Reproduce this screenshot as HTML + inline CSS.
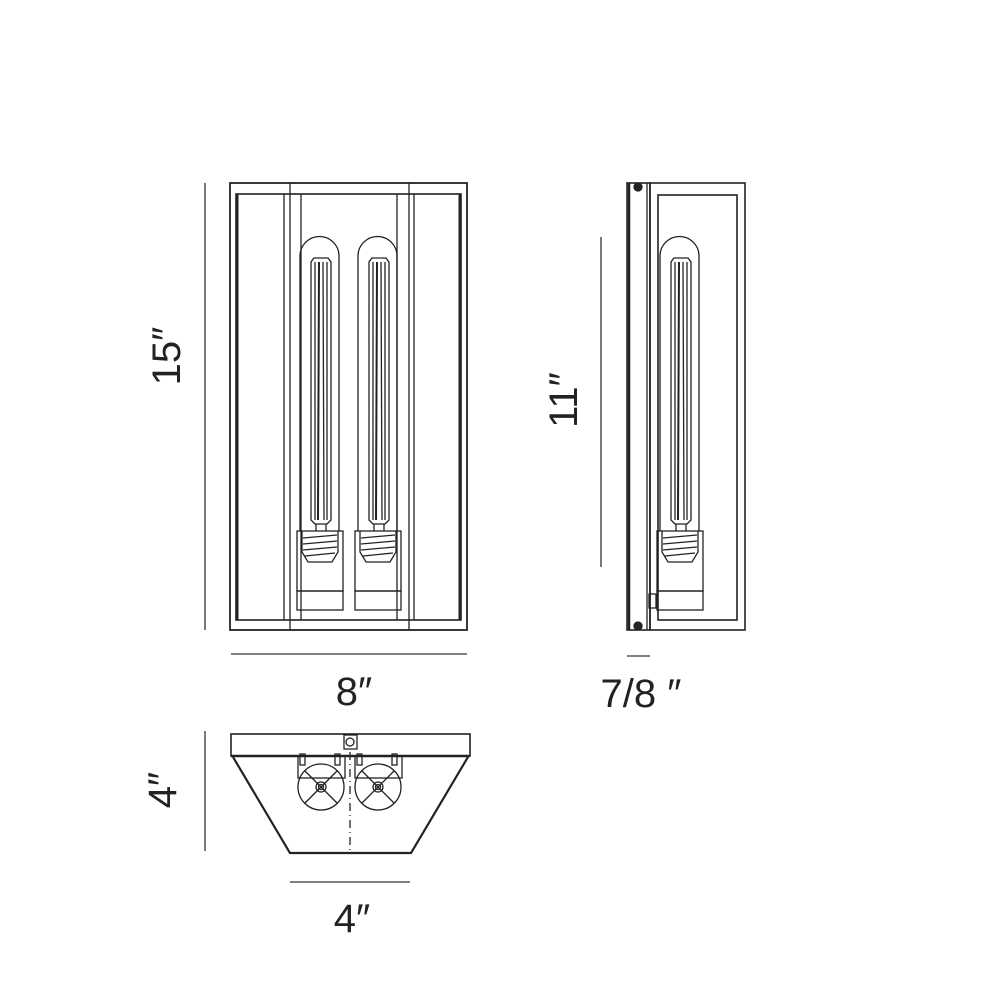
<!DOCTYPE html>
<html><head><style>body{margin:0;background:#fff}</style></head><body>
<svg width="1000" height="1000" viewBox="0 0 1000 1000" xmlns="http://www.w3.org/2000/svg">
<rect width="1000" height="1000" fill="#fff"/>
<g fill="none" stroke="#222" stroke-width="1.3">
<!-- front view -->
<rect x="230" y="183" width="237" height="447" stroke-width="1.8"/>
<rect x="236" y="194" width="225" height="426" stroke-width="1.6"/>
<line x1="237" y1="194" x2="237" y2="620" stroke-width="3"/>
<line x1="460" y1="194" x2="460" y2="620" stroke-width="3"/>
<line x1="290" y1="183" x2="290" y2="630"/>
<line x1="409" y1="183" x2="409" y2="630"/>
<line x1="284" y1="194" x2="284" y2="620"/>
<line x1="414" y1="194" x2="414" y2="620"/>
<line x1="301" y1="194" x2="301" y2="620"/>
<line x1="397" y1="194" x2="397" y2="620"/>
<g id="bulb">
<path d="M300,531 V256 A19,19 0 0 1 339,256 V531"/>
<path d="M311,520 V262 l3,-4 h14 l3,4 V520 l-4,4 h-12 z"/>
<line x1="315" y1="262" x2="315" y2="520"/><line x1="319" y1="262" x2="318" y2="520" stroke-width="2"/><line x1="323" y1="262" x2="324" y2="520"/><line x1="327" y1="262" x2="327" y2="520"/>
<line x1="316" y1="524" x2="316" y2="531"/><line x1="326" y1="524" x2="326" y2="531"/>
<rect x="297" y="531" width="46" height="60"/>
<path d="M302,531 V552 l6,10 h24 l6,-10 V531"/>
<line x1="303" y1="538" x2="337" y2="535"/><line x1="303" y1="544" x2="337" y2="541"/><line x1="303" y1="550" x2="337" y2="547"/><line x1="305" y1="556" x2="335" y2="553"/>
<rect x="297" y="591" width="46" height="19"/>
</g>
<use href="#bulb" transform="translate(58,0)"/>
<!-- side view -->
<rect x="627" y="183" width="23" height="447" stroke-width="1.6"/>
<line x1="629" y1="183" x2="629" y2="630" stroke-width="2.5"/>
<line x1="647" y1="183" x2="647" y2="630"/>
<rect x="650" y="183" width="95" height="447" stroke-width="1.6"/>
<rect x="658" y="195" width="79" height="425" stroke-width="1.6"/>
<circle cx="638" cy="187" r="4" fill="#222"/><circle cx="638" cy="626" r="4" fill="#222"/>
<rect x="649" y="594" width="7" height="14"/>
<use href="#bulb" transform="translate(360,0)"/>
<!-- bottom view -->
<rect x="231" y="734" width="239" height="22" stroke-width="1.6"/>
<line x1="231" y1="756" x2="470" y2="756" stroke-width="2.5"/>
<path d="M233,757 L290,853 H411 L468,757" stroke-width="2.2"/>
<rect x="344" y="735" width="13" height="14"/><circle cx="350" cy="742" r="4"/>
<line x1="350" y1="752" x2="350" y2="853" stroke-dasharray="8,4,1,4"/>
<g id="sock">
<rect x="298" y="756" width="47" height="22"/>
<circle cx="321" cy="787" r="23"/><circle cx="321" cy="787" r="5"/><circle cx="321" cy="787" r="2.5"/>
<line x1="305" y1="771" x2="337" y2="803"/><line x1="337" y1="771" x2="305" y2="803"/>
<rect x="300" y="754" width="5" height="11"/><rect x="335" y="754" width="5" height="11"/>
</g>
<use href="#sock" transform="translate(57,0)"/>
</g>
<!-- dimension lines -->
<g stroke="#333" stroke-width="1.3">
<line x1="205" y1="183" x2="205" y2="630"/>
<line x1="231" y1="654" x2="467" y2="654"/>
<line x1="601" y1="237" x2="601" y2="567"/>
<line x1="627" y1="656" x2="650" y2="656"/>
<line x1="205" y1="731" x2="205" y2="851"/>
<line x1="290" y1="882" x2="410" y2="882"/>
</g>
<g font-family="Liberation Sans, sans-serif" font-size="40" fill="#222" text-anchor="middle">
<text transform="translate(180,356) rotate(-90)">15″</text>
<text x="354" y="705">8″</text>
<text transform="translate(577,400) rotate(-90)">11″</text>
<text x="641" y="707">7/8 ″</text>
<text transform="translate(176,790) rotate(-90)">4″</text>
<text x="352" y="932">4″</text>
</g>
</svg>
</body></html>
